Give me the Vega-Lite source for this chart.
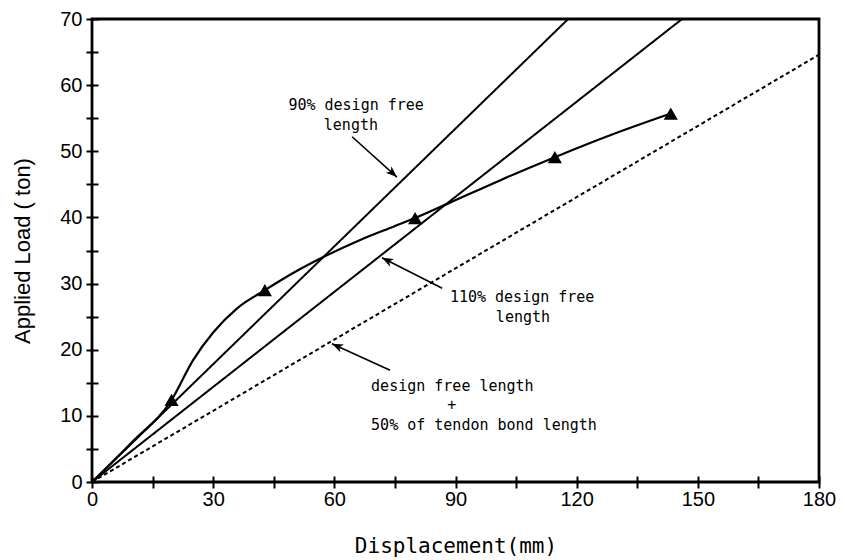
{
  "$schema": "https://vega.github.io/schema/vega-lite/v6.json",
  "width": 727,
  "height": 463,
  "autosize": "none",
  "padding": {"left": 92, "top": 19, "right": 26, "bottom": 78},
  "background": "white",
  "config": {
    "view": {"stroke": "black", "strokeWidth": 2.8},
    "axis": {"grid": false}
  },
  "datasets": {
    "refLines": [
      {"series": "90% design free length", "x": 0, "y": 0},
      {"series": "90% design free length", "x": 117.9, "y": 70},
      {"series": "110% design free length", "x": 0, "y": 0},
      {"series": "110% design free length", "x": 146.1, "y": 70},
      {"series": "design free length + 50% of tendon bond length", "x": 0, "y": 0},
      {"series": "design free length + 50% of tendon bond length", "x": 180, "y": 64.6}
    ],
    "curve": [
      {"x": 0, "y": 0, "measured": false},
      {"x": 10, "y": 6.1, "measured": false},
      {"x": 19.7, "y": 12.4, "measured": true},
      {"x": 25.0, "y": 18.4, "measured": false},
      {"x": 30.0, "y": 22.6, "measured": false},
      {"x": 36.0, "y": 26.3, "measured": false},
      {"x": 42.8, "y": 29.0, "measured": true},
      {"x": 49.8, "y": 31.6, "measured": false},
      {"x": 56.9, "y": 33.9, "measured": false},
      {"x": 66.4, "y": 36.6, "measured": false},
      {"x": 74.6, "y": 38.6, "measured": false},
      {"x": 80.0, "y": 39.9, "measured": true},
      {"x": 88.5, "y": 42.2, "measured": false},
      {"x": 101.0, "y": 45.6, "measured": false},
      {"x": 114.6, "y": 49.1, "measured": true},
      {"x": 129.1, "y": 52.6, "measured": false},
      {"x": 143.3, "y": 55.7, "measured": true}
    ],
    "arrows": [
      {"x": 64.4, "y": 52.2, "x2": 75.5, "y2": 46.1},
      {"x": 86.7, "y": 29.3, "x2": 71.8, "y2": 33.9},
      {"x": 73.8, "y": 16.9, "x2": 59.4, "y2": 20.9}
    ],
    "notesCenter": [
      {"label": "90% design free", "x": 65.4, "y": 57.0},
      {"label": "length", "x": 64.1, "y": 54.0},
      {"label": "110% design free", "x": 106.5, "y": 28.0},
      {"label": "length", "x": 106.7, "y": 25.0},
      {"label": "+", "x": 89.1, "y": 11.6}
    ],
    "notesLeft": [
      {"label": "design free length", "x": 69.1, "y": 14.5},
      {"label": "50% of tendon bond length", "x": 69.1, "y": 8.6}
    ]
  },
  "encoding": {
    "x": {
      "field": "x",
      "type": "quantitative",
      "scale": {"domain": [0, 180], "nice": false, "zero": false},
      "axis": {
        "title": "Displacement(mm)",
        "values": [0, 15, 30, 45, 60, 75, 90, 105, 120, 135, 150, 165, 180],
        "labelExpr": "datum.value % 30 === 0 ? datum.label : ''",
        "offset": -6,
        "tickSize": 12,
        "tickWidth": 2,
        "tickColor": "black",
        "domain": false,
        "labelFont": "Liberation Sans",
        "labelFontSize": 20,
        "labelColor": "black",
        "labelPadding": 1,
        "labelFlush": false,
        "labelOverlap": false,
        "labelBound": false,
        "titleFont": "DejaVu Sans Mono",
        "titleFontSize": 21,
        "titleFontWeight": "normal",
        "titleColor": "black",
        "titlePadding": 26
      }
    },
    "y": {
      "field": "y",
      "type": "quantitative",
      "scale": {"domain": [0, 70], "nice": false, "zero": false},
      "axis": {
        "title": "Applied Load ( ton)",
        "values": [0, 5, 10, 15, 20, 25, 30, 35, 40, 45, 50, 55, 60, 65, 70],
        "labelExpr": "datum.value % 10 === 0 ? datum.label : ''",
        "offset": -6,
        "tickSize": 12,
        "tickWidth": 2,
        "tickColor": "black",
        "domain": false,
        "labelFont": "Liberation Sans",
        "labelFontSize": 20,
        "labelColor": "black",
        "labelPadding": 4,
        "labelFlush": false,
        "labelOverlap": false,
        "labelBound": false,
        "titleFont": "Liberation Sans",
        "titleFontSize": 22,
        "titleFontWeight": "normal",
        "titleColor": "black",
        "titlePadding": 25
      }
    }
  },
  "layer": [
    {
      "data": {"name": "refLines"},
      "mark": {"type": "line", "color": "black", "strokeWidth": 2},
      "encoding": {
        "detail": {"field": "series"},
        "strokeDash": {
          "field": "series",
          "type": "nominal",
          "scale": {
            "domain": ["90% design free length", "110% design free length", "design free length + 50% of tendon bond length"],
            "range": [[1, 0], [1, 0], [4, 3]]
          },
          "legend": null
        }
      }
    },
    {
      "data": {"name": "curve"},
      "mark": {"type": "line", "color": "black", "strokeWidth": 2.2, "interpolate": "monotone"},
      "encoding": {}
    },
    {
      "data": {"name": "curve"},
      "transform": [{"filter": "datum.measured"}],
      "mark": {"type": "point", "shape": "triangle-up", "filled": true, "color": "black", "size": 200, "opacity": 1},
      "encoding": {}
    },
    {
      "data": {"name": "arrows"},
      "mark": {"type": "rule", "color": "black", "strokeWidth": 1.6},
      "encoding": {
        "x2": {"field": "x2"},
        "y2": {"field": "y2"}
      }
    },
    {
      "data": {"name": "arrows"},
      "transform": [
        {"calculate": "atan2((datum.x2 - datum.x) * 727 / 180, (datum.y2 - datum.y) * 463 / 70) * 180 / PI", "as": "angle"}
      ],
      "mark": {"type": "point", "shape": "M0,0 L-0.6,1.6 L0,1.15 L0.6,1.6 Z", "filled": true, "color": "black", "size": 200, "opacity": 1},
      "encoding": {
        "x": {"field": "x2", "type": "quantitative"},
        "y": {"field": "y2", "type": "quantitative"},
        "angle": {"field": "angle", "type": "quantitative", "scale": null}
      }
    },
    {
      "data": {"name": "notesCenter"},
      "mark": {"type": "text", "font": "DejaVu Sans Mono", "fontSize": 15, "align": "center", "baseline": "middle", "color": "black"},
      "encoding": {"text": {"field": "label"}}
    },
    {
      "data": {"name": "notesLeft"},
      "mark": {"type": "text", "font": "DejaVu Sans Mono", "fontSize": 15, "align": "left", "baseline": "middle", "color": "black"},
      "encoding": {"text": {"field": "label"}}
    }
  ]
}
